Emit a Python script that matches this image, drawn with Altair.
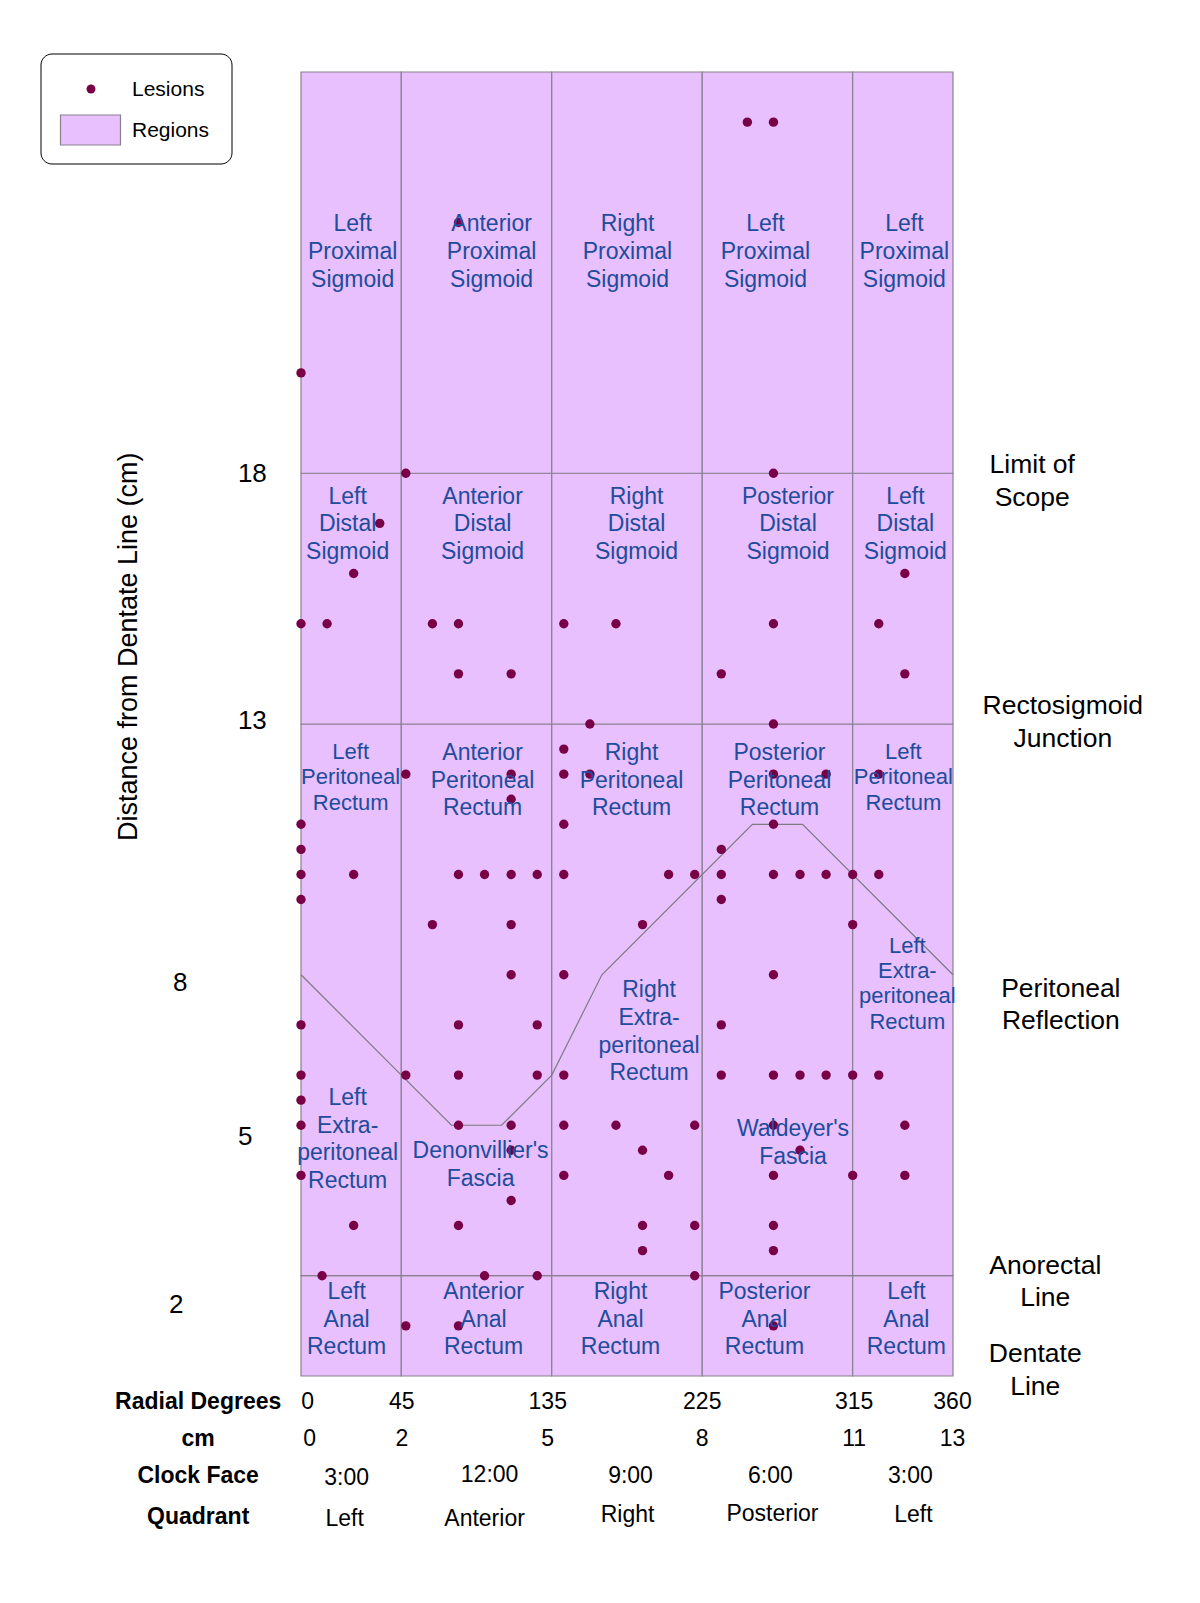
import altair as alt
import pandas as pd

FONT = "Liberation Sans, Arial, Helvetica, sans-serif"
FILL = "#e7c0fd"
EDGE = "#8a8090"
DOT = "#780046"
BLUE = "#214c9e"

# ---- region grid (cm around circumference, cm from dentate line) ----
col_edges = [0, 2, 5, 8, 11, 13]
row_edges = [0, 2, 13, 18, 26]

# ---- peritoneal reflection boundary ----
reflection_x = [0, 2, 3, 4, 5, 6, 9, 10, 13]
reflection_y = [8, 6, 5, 5, 6, 8, 11, 11, 8]

# ---- lesions (x: cm around circumference, y: cm from dentate line) ----
lesion_x = [
    8.9, 9.42,
    3.14,
    0.0,
    2.09, 9.42,
    1.57,
    1.05, 12.04,
    0.0, 0.52, 2.62, 3.14, 5.24, 6.28, 9.42, 11.52,
    3.14, 4.19, 8.38, 12.04,
    5.76, 9.42,
    5.24,
    2.09, 4.19, 5.24, 5.76, 9.42, 10.47, 11.52,
    4.19,
    0.0, 5.24, 9.42,
    0.0, 8.38,
    0.0, 1.05, 3.14, 3.66, 4.19, 4.71, 5.24, 7.33, 7.85, 8.38, 9.42, 9.95, 10.47, 11.0, 11.52,
    0.0, 8.38,
    2.62, 4.19, 6.81, 11.0,
    4.19, 5.24, 9.42,
    0.0, 3.14, 4.71, 8.38,
    0.0, 2.09, 3.14, 4.71, 5.24, 8.38, 9.42, 9.95, 10.47, 11.0, 11.52,
    0.0,
    0.0, 3.14, 4.19, 5.24, 6.28, 7.85, 9.42, 12.04,
    4.19, 6.81, 9.95,
    0.0, 5.24, 7.33, 9.42, 11.0, 12.04,
    4.19,
    1.05, 3.14, 6.81, 7.85, 9.42,
    6.81, 9.42,
    0.42, 3.66, 4.71, 7.85,
    2.09, 3.14, 9.42,
]
lesion_y = [
    25, 25,
    23,
    20,
    18, 18,
    17,
    16, 16,
    15, 15, 15, 15, 15, 15, 15, 15,
    14, 14, 14, 14,
    13, 13,
    12.5,
    12, 12, 12, 12, 12, 12, 12,
    11.5,
    11, 11, 11,
    10.5, 10.5,
    10, 10, 10, 10, 10, 10, 10, 10, 10, 10, 10, 10, 10, 10, 10,
    9.5, 9.5,
    9, 9, 9, 9,
    8, 8, 8,
    7, 7, 7, 7,
    6, 6, 6, 6, 6, 6, 6, 6, 6, 6, 6,
    5.5,
    5, 5, 5, 5, 5, 5, 5, 5,
    4.5, 4.5, 4.5,
    4, 4, 4, 4, 4, 4,
    3.5,
    3, 3, 3, 3, 3,
    2.5, 2.5,
    2, 2, 2, 2,
    1, 1, 1,
]

# ---- region labels (y = position of the first text line) ----
region_labels = [
    "Left\nProximal\nSigmoid", "Anterior\nProximal\nSigmoid", "Right\nProximal\nSigmoid",
    "Left\nProximal\nSigmoid", "Left\nProximal\nSigmoid",
    "Left\nDistal\nSigmoid", "Anterior\nDistal\nSigmoid", "Right\nDistal\nSigmoid",
    "Posterior\nDistal\nSigmoid", "Left\nDistal\nSigmoid",
    "Anterior\nPeritoneal\nRectum", "Right\nPeritoneal\nRectum", "Posterior\nPeritoneal\nRectum",
    "Left\nExtra-\nperitoneal\nRectum", "Denonvillier's\nFascia", "Right\nExtra-\nperitoneal\nRectum",
    "Waldeyer's\nFascia",
    "Left\nAnal\nRectum", "Anterior\nAnal\nRectum", "Right\nAnal\nRectum",
    "Posterior\nAnal\nRectum", "Left\nAnal\nRectum",
]
region_x = [1.03, 3.80, 6.51, 9.26, 12.03,
            0.93, 3.62, 6.69, 9.71, 12.05,
            3.62, 6.59, 9.54,
            0.93, 3.58, 6.94, 9.81,
            0.91, 3.64, 6.37, 9.24, 12.07]
region_y = [22.96, 22.96, 22.96, 22.96, 22.96,
            17.53, 17.53, 17.53, 17.53, 17.53,
            12.42, 12.42, 12.42,
            5.54, 4.48, 7.69, 4.92,
            1.67, 1.67, 1.67, 1.67, 1.67]

# narrow-column labels (slightly smaller type)
small_labels = ["Left\nPeritoneal\nRectum", "Left\nPeritoneal\nRectum", "Left\nExtra-\nperitoneal\nRectum"]
small_x = [0.99, 12.01, 12.09]
small_y = [12.44, 12.44, 8.58]

# ---- landmark labels (right) ----
landmark_labels = ["Limit of\nScope", "Rectosigmoid\nJunction", "Peritoneal\nReflection",
                   "Anorectal\nLine", "Dentate\nLine"]
landmark_x = [14.58, 15.19, 15.15, 14.84, 14.64]
landmark_y = [18.16, 13.35, 7.72, 2.2, 0.43]

# ---- distance labels (left) ----
dist_labels = ["18", "13", "8", "5", "2"]
dist_x = [-0.97, -0.97, -2.41, -1.11, -2.49]
dist_y = [17.98, 13.05, 7.84, 4.76, 1.42]

y_title = "Distance from Dentate Line (cm)"

# ---- bottom scale rows ----
row_titles = ["Radial Degrees", "cm", "Clock Face", "Quadrant"]
row_title_x = [-2.05, -2.05, -2.05, -2.05]
row_title_y = [-0.51, -1.26, -2.0, -2.81]

degree_labels = ["0", "45", "135", "225", "315", "360"]
degree_x = [0.13, 2.01, 4.92, 8.0, 11.03, 12.99]
cm_labels = ["0", "2", "5", "8", "11", "13"]
cm_x = [0.17, 2.01, 4.92, 8.0, 11.03, 12.99]
clock_labels = ["3:00", "12:00", "9:00", "6:00", "3:00"]
clock_x = [0.91, 3.76, 6.57, 9.36, 12.15]
clock_y = [-2.04, -1.98, -2.0, -2.0, -2.0]
quadrant_labels = ["Left", "Anterior", "Right", "Posterior", "Left"]
quadrant_x = [0.87, 3.66, 6.51, 9.40, 12.21]
quadrant_y = [-2.85, -2.85, -2.77, -2.75, -2.77]

legend_items = ["Lesions", "Regions"]

# ================= build =================
xs = alt.Scale(domain=[0, 13], nice=False, zero=False)
ys = alt.Scale(domain=[0, 26], nice=False, zero=False)


def X(f):
    return alt.X(f, type="quantitative", scale=xs, axis=None)


def Y(f):
    return alt.Y(f, type="quantitative", scale=ys, axis=None)


cells = []
for i in range(len(col_edges) - 1):
    for j in range(len(row_edges) - 1):
        cells.append({"x": col_edges[i], "x2": col_edges[i + 1],
                      "y": row_edges[j], "y2": row_edges[j + 1]})
cells_df = pd.DataFrame(cells)

regions = alt.Chart(cells_df).mark_rect(fill=FILL, stroke=EDGE, strokeWidth=1.2).encode(
    x=X("x"), x2="x2", y=Y("y"), y2="y2")

refl_df = pd.DataFrame({"x": reflection_x, "y": reflection_y})
reflection = alt.Chart(refl_df).mark_line(color="#7d7a80", strokeWidth=1.2).encode(
    x=X("x"), y=Y("y"))

les_df = pd.DataFrame({"x": lesion_x, "y": lesion_y})
lesions = alt.Chart(les_df).mark_circle(size=88, color=DOT, opacity=1).encode(
    x=X("x"), y=Y("y"))

reg_df = pd.DataFrame({"x": region_x, "y": region_y, "t": region_labels})
reg_text = alt.Chart(reg_df).mark_text(
    font=FONT, fontSize=23, lineHeight=27.6, lineBreak="\n", color=BLUE,
    align="center", baseline="middle").encode(x=X("x"), y=Y("y"), text="t:N")

small_df = pd.DataFrame({"x": small_x, "y": small_y, "t": small_labels})
small_text = alt.Chart(small_df).mark_text(
    font=FONT, fontSize=22, lineHeight=25.3, lineBreak="\n", color=BLUE,
    align="center", baseline="middle").encode(x=X("x"), y=Y("y"), text="t:N")

land_df = pd.DataFrame({"x": landmark_x, "y": landmark_y, "t": landmark_labels})
land_text = alt.Chart(land_df).mark_text(
    font=FONT, fontSize=26.5, lineHeight=32.5, lineBreak="\n", color="black",
    align="center", baseline="middle").encode(x=X("x"), y=Y("y"), text="t:N")

dist_df = pd.DataFrame({"x": dist_x, "y": dist_y, "t": dist_labels})
dist_text = alt.Chart(dist_df).mark_text(
    font=FONT, fontSize=26, color="black", align="center", baseline="middle").encode(
    x=X("x"), y=Y("y"), text="t:N")

ytitle_df = pd.DataFrame({"x": [-3.43], "y": [14.54], "t": [y_title]})
ytitle_text = alt.Chart(ytitle_df).mark_text(
    font=FONT, fontSize=27, color="black", align="center", baseline="middle", angle=270).encode(
    x=X("x"), y=Y("y"), text="t:N")

rt_df = pd.DataFrame({"x": row_title_x, "y": row_title_y, "t": row_titles})
rt_text = alt.Chart(rt_df).mark_text(
    font=FONT, fontSize=23, fontWeight="bold", color="black", align="center",
    baseline="middle").encode(x=X("x"), y=Y("y"), text="t:N")

bottom_rows = pd.concat([
    pd.DataFrame({"x": degree_x, "y": [-0.51] * len(degree_x), "t": degree_labels}),
    pd.DataFrame({"x": cm_x, "y": [-1.26] * len(cm_x), "t": cm_labels}),
    pd.DataFrame({"x": clock_x, "y": clock_y, "t": clock_labels}),
    pd.DataFrame({"x": quadrant_x, "y": quadrant_y, "t": quadrant_labels}),
], ignore_index=True)
bottom_text = alt.Chart(bottom_rows).mark_text(
    font=FONT, fontSize=23, color="black", align="center", baseline="middle").encode(
    x=X("x"), y=Y("y"), text="t:N")

# ---- legend (drawn in pixel space, top-left outside the plot) ----
one = pd.DataFrame({"k": [0]})
leg_box = alt.Chart(one).mark_rect(fill="white", stroke="black", strokeWidth=1,
                                   cornerRadius=11).encode(
    x=alt.value(-260), x2=alt.value(-69), y=alt.value(-18), y2=alt.value(92))
leg_dot = alt.Chart(one).mark_circle(size=80, color=DOT, opacity=1).encode(
    x=alt.value(-210), y=alt.value(17))
leg_swatch = alt.Chart(one).mark_rect(fill=FILL, stroke=EDGE, strokeWidth=1.2).encode(
    x=alt.value(-240.5), x2=alt.value(-180.5), y=alt.value(43), y2=alt.value(73))
leg_text_df = pd.DataFrame({"t": legend_items})
leg_t1 = alt.Chart(leg_text_df.iloc[[0]]).mark_text(
    font=FONT, fontSize=21, color="black", align="left", baseline="middle").encode(
    x=alt.value(-169), y=alt.value(18), text="t:N")
leg_t2 = alt.Chart(leg_text_df.iloc[[1]]).mark_text(
    font=FONT, fontSize=21, color="black", align="left", baseline="middle").encode(
    x=alt.value(-169), y=alt.value(59), text="t:N")

chart = alt.layer(
    regions, reflection, lesions, reg_text, small_text, land_text, dist_text,
    ytitle_text, rt_text, bottom_text,
    leg_box, leg_dot, leg_swatch, leg_t1, leg_t2,
).properties(
    width=652, height=1304,
    padding={"left": 293, "top": 64, "right": 230, "bottom": 190},
    autosize=alt.AutoSizeParams(type="none"),
    background="white",
).configure_view(strokeWidth=0)

chart.save("out.html", embed_options={"renderer": "svg", "actions": False})
